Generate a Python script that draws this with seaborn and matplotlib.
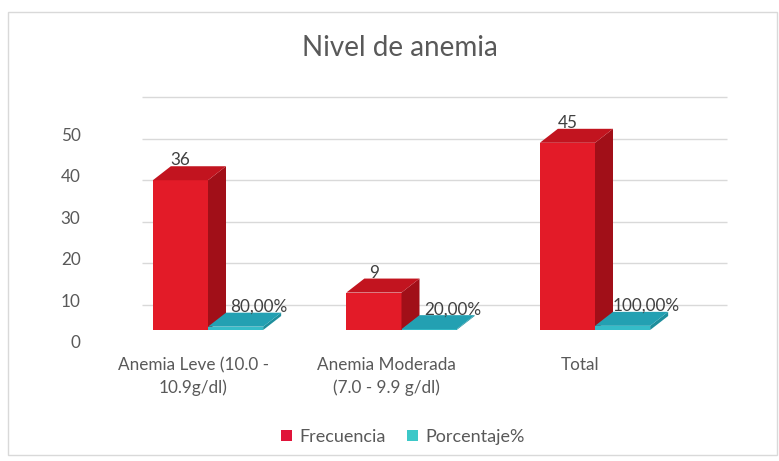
import matplotlib
matplotlib.use("Agg")
import matplotlib.pyplot as plt
import matplotlib.transforms as mtransforms
from matplotlib.patches import Polygon, Rectangle, Patch
import seaborn as sns
import pandas as pd

# ---------------- data ----------------
categorias = ["Anemia Leve (10.0 -\n10.9g/dl)", "Anemia Moderada\n(7.0 - 9.9 g/dl)", "Total"]
series = ["Frecuencia", "Porcentaje%"]
frecuencia = [36, 9, 45]
porcentaje = [0.80, 0.20, 1.00]
etiquetas_frecuencia = ["36", "9", "45"]
etiquetas_porcentaje = ["80,00%", "20,00%", "100,00%"]
yticks = [0, 10, 20, 30, 40, 50]
titulo = "Nivel de anemia"

df = pd.DataFrame({
    "categoria": categorias * 2,
    "serie": [series[0]] * 3 + [series[1]] * 3,
    "valor": frecuencia + porcentaje,
})

# ---------------- style ----------------
sns.set_theme(style="white")
plt.rcParams["font.family"] = ["Lato", "DejaVu Sans"]

RED_FRONT, RED_SIDE, RED_TOP = "#E31B28", "#A10F18", "#C2141F"
TEAL_FRONT, TEAL_SIDE, TEAL_TOP = "#35BCC8", "#1E8E9C", "#23A0B2"
RED_LEG, TEAL_LEG = "#E0143A", "#3CC8C8"
GRAY = "#595959"

W, H = 779, 461
fig = plt.figure(figsize=(W / 100, H / 100), dpi=100)
fig.patch.set_facecolor("white")

# axes in pixel layout
px_per_unit_x = 193.5
px_per_unit_y = 4.16
left_px, bottom_px, top_px = 208 - 0.7 * px_per_unit_x, 330, 90
ax_w = 3.4 * px_per_unit_x
ax_h = bottom_px - top_px
ax = fig.add_axes([left_px / W, (H - bottom_px) / H, ax_w / W, ax_h / H])
ax.set_facecolor("none")

sns.barplot(data=df, x="categoria", y="valor", hue="serie",
            palette=[RED_FRONT, TEAL_FRONT], saturation=1, width=0.57,
            errorbar=None, legend=False, ax=ax, zorder=3)

ax.set_xlim(-0.7, 2.7)
ax.set_ylim(0, ax_h / px_per_unit_y)

dx = 18 / px_per_unit_x
dy = 14 / px_per_unit_y
back_off = 25 / px_per_unit_y

# back wall gridlines
ax.hlines([v + back_off for v in yticks], -0.34, 2.68, colors="#D9D9D9",
          linewidth=1.0, zorder=1)

face_cols = [(RED_SIDE, RED_TOP), (TEAL_SIDE, TEAL_TOP)]
for si, cont in enumerate(ax.containers):
    side_c, top_c = face_cols[si]
    for bar in cont:
        x, w, h = bar.get_x(), bar.get_width(), bar.get_height()
        bar.set_zorder(3 + si)
        bar.set_edgecolor("none")
        side = Polygon([(x + w, 0), (x + w, h), (x + w + dx, h + dy), (x + w + dx, dy)],
                       closed=True, facecolor=side_c, edgecolor="none", zorder=3 + si)
        top = Polygon([(x, h), (x + w, h), (x + w + dx, h + dy), (x + dx, h + dy)],
                      closed=True, facecolor=top_c, edgecolor="none", zorder=3 + si)
        ax.add_patch(side)
        ax.add_patch(top)

# data labels
LBL = 12.3
for bar, lab in zip(ax.containers[0], etiquetas_frecuencia):
    cx = bar.get_x() + bar.get_width() / 2
    ax.annotate(lab, (cx, bar.get_height() + dy), xytext=(0, -1.5),
                textcoords="offset points", ha="center", va="bottom",
                fontsize=LBL, color="#404040", zorder=10)
for bar, lab in zip(ax.containers[1], etiquetas_porcentaje):
    cx = bar.get_x() + bar.get_width() / 2
    ax.annotate(lab, (cx, bar.get_height() + dy), xytext=(17, -1.5),
                textcoords="offset points", ha="center", va="bottom",
                fontsize=LBL, color="#404040", zorder=10)

# axes cosmetics
for s in ax.spines.values():
    s.set_visible(False)
ax.set_xlabel("")
ax.set_ylabel("")
ax.set_yticks(yticks)
ax.set_yticklabels([str(v) for v in yticks])
ax.tick_params(axis="both", length=0, pad=0, labelsize=12.3, labelcolor=GRAY)
off_y = mtransforms.ScaledTranslation(8 / 100, -12 / 100, fig.dpi_scale_trans)
for lab in ax.get_yticklabels():
    lab.set_transform(lab.get_transform() + off_y)
ax.set_xticks(range(len(categorias)))
ax.set_xticklabels(categorias, linespacing=1.45)
off_x = mtransforms.ScaledTranslation(-15 / 100, -27 / 100, fig.dpi_scale_trans)
for lab in ax.get_xticklabels():
    lab.set_transform(lab.get_transform() + off_x)
    lab.set_verticalalignment("top")

# title
fig.text(400 / W, (H - 48) / H, titulo, ha="center", va="center",
         fontsize=20, color=GRAY)

# legend
handles = [Patch(facecolor=RED_LEG, edgecolor="none", label=series[0]),
           Patch(facecolor=TEAL_LEG, edgecolor="none", label=series[1])]
fig.legend(handles=handles, loc="center", bbox_to_anchor=(403 / W, (H - 437) / H),
           ncol=2, frameon=False, fontsize=13, labelcolor=GRAY,
           handlelength=0.6, handleheight=0.6, handletextpad=0.4, columnspacing=1.2)

# chart border
fig.patches.append(Rectangle((8 / W, 6 / H), (777 - 8) / W, (455 - 12) / H,
                             transform=fig.transFigure, fill=False,
                             edgecolor="#D9D9D9", linewidth=1.0))

fig.savefig("out.png", dpi=100, facecolor="white")
